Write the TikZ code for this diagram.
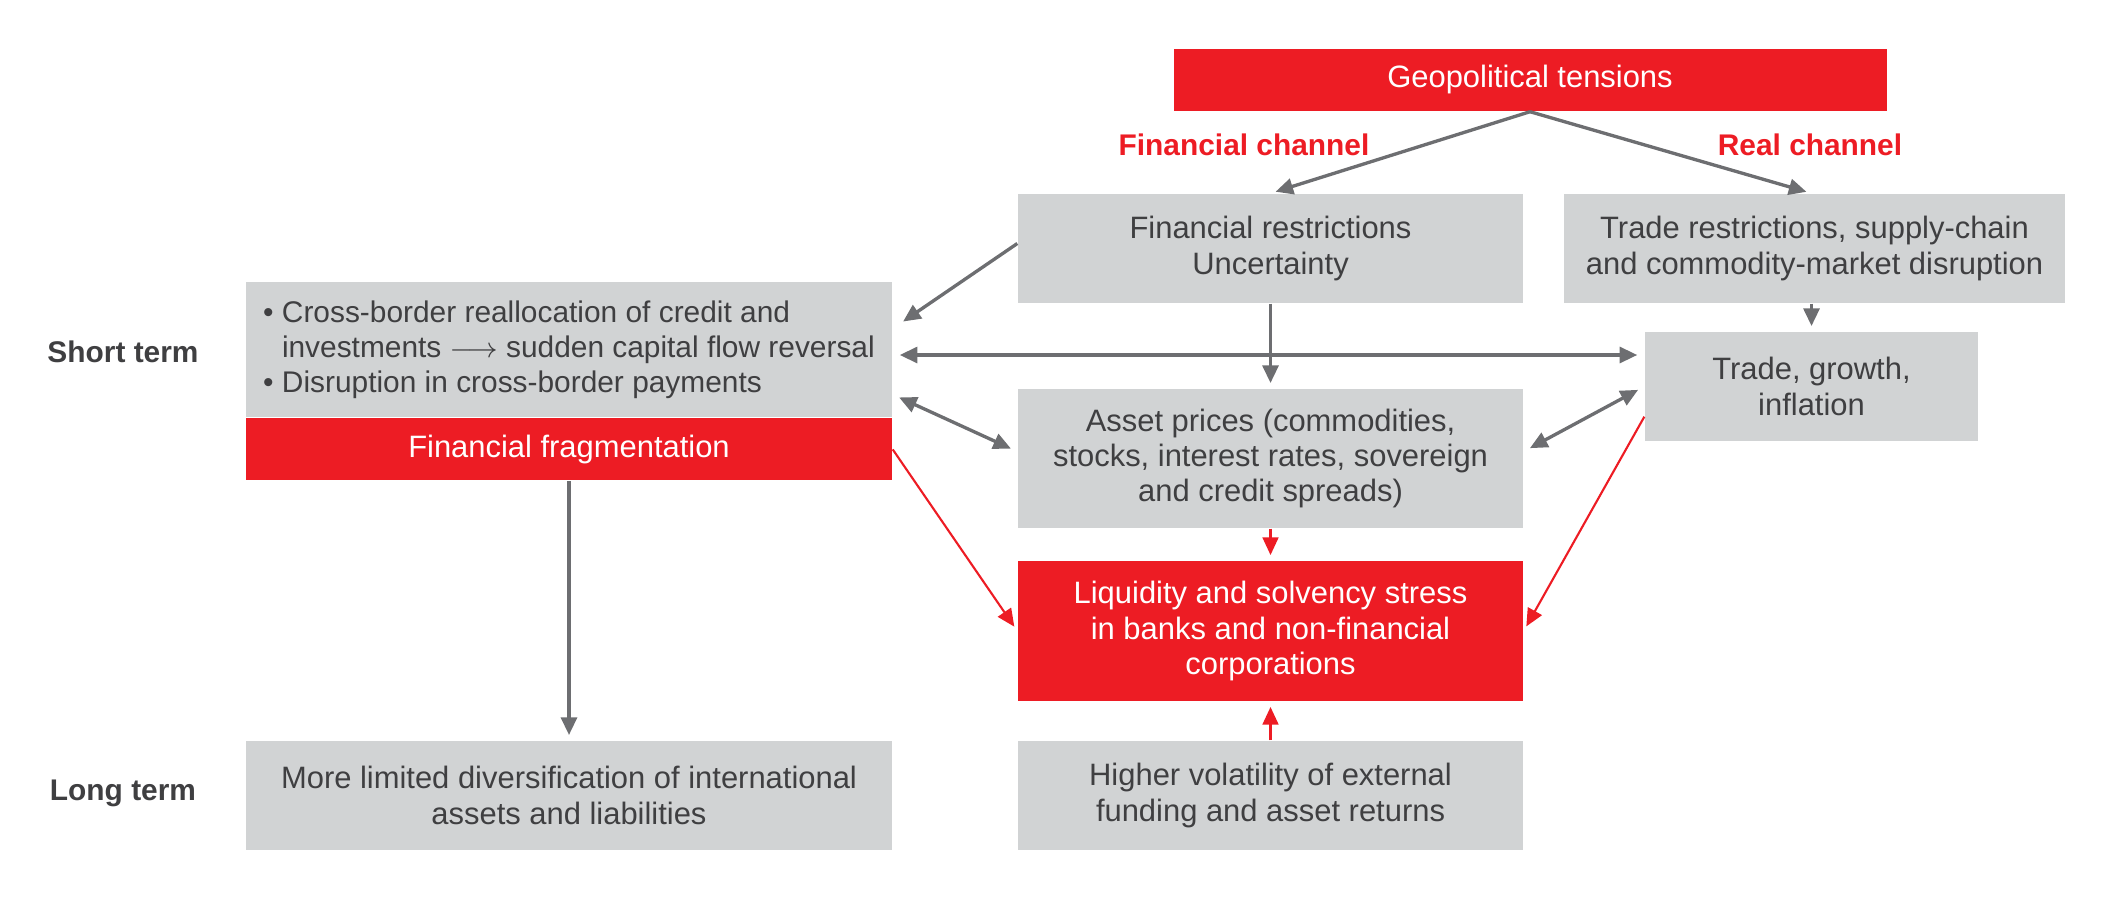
\documentclass[tikz,border=0pt]{standalone}
\usepackage{fontspec}
\setmainfont{Liberation Sans}
\usetikzlibrary{calc,positioning,arrows.meta}
\definecolor{ecbred}{HTML}{ED1C24}
\definecolor{boxgray}{HTML}{D1D3D4}
\definecolor{arrowgray}{HTML}{6D6E71}
\definecolor{textgray}{HTML}{3F3F41}

\begin{document}
\begin{tikzpicture}[
  font=\fontsize{8.8}{10}\selectfont,
  color=textgray,
  graybox/.style={rectangle,fill=boxgray,text=textgray,align=center,inner sep=0pt},
  redbox/.style={rectangle,fill=ecbred,text=white,align=center,inner sep=0pt},
  labeltext/.style={font=\fontsize{8.5}{10}\selectfont\bfseries},
  grayarrow/.style={draw=arrowgray,line width=.95pt,shorten >=1.5pt,-{Triangle[length=5pt,width=4.5pt]}},
  graydouble/.style={draw=arrowgray,line width=.95pt,shorten >=2pt,shorten <=2pt,{Triangle[length=5pt,width=4.5pt]}-{Triangle[length=5pt,width=4.5pt]}},
  redarrow/.style={draw=ecbred,line width=.6pt,shorten >=1.5pt,-{Triangle[length=5pt,width=4.5pt]}},
  ]

  \useasboundingbox (0,0) rectangle (21.23,-9.18);

  %top
  \node (box_geo) [redbox,minimum width=7.13cm,minimum height=.62cm] at (15.30,-.80) {Geopolitical tensions};

  %channels
  \node (box_finres) [graybox,minimum width=5.05cm,minimum height=1.09cm] at (12.705,-2.485) {Financial restrictions\\Uncertainty};
  \node (box_tradres) [graybox,minimum width=5.01cm,minimum height=1.09cm] at (18.145,-2.485) {Trade restrictions, supply-chain\\and commodity-market disruption};
  \node (label_fin) [labeltext,text=ecbred] at (12.44,-1.45) {Financial channel};
  \node (label_real) [labeltext,text=ecbred] at (18.10,-1.45) {Real channel};

  %short term
  \node (box_cross) [graybox,align=left,minimum width=6.46cm,minimum height=1.35cm,font=\fontsize{8.5}{10}\selectfont] at (5.69,-3.495)
    {\textbullet\ Cross-border reallocation of credit and\\
     \hphantom{\textbullet\ }investments $\longrightarrow$ sudden capital flow reversal\\
     \textbullet\ Disruption in cross-border payments};
  \node (box_frag) [redbox,minimum width=6.46cm,minimum height=.62cm,anchor=north] at (box_cross.south) {Financial fragmentation};
  \node (box_tgi) [graybox,minimum width=3.33cm,minimum height=1.09cm] at (18.115,-3.865) {Trade, growth,\\inflation};
  \node (box_asset) [graybox,minimum width=5.05cm,minimum height=1.39cm] at (12.705,-4.585) {Asset prices (commodities,\\stocks, interest rates, sovereign\\and credit spreads)};
  \node (box_liq) [redbox,minimum width=5.05cm,minimum height=1.40cm] at (12.705,-6.31) {Liquidity and solvency stress\\in banks and non-financial\\corporations};

  %long term
  \node (box_limited) [graybox,minimum width=6.46cm,minimum height=1.09cm] at (5.69,-7.955) {More limited diversification of international\\assets and liabilities};
  \node (box_volat) [graybox,minimum width=5.05cm,minimum height=1.09cm] at (12.705,-7.955) {Higher volatility of external\\funding and asset returns};

  %row labels
  \node (label_short) [labeltext] at (1.23,-3.52) {Short term};
  \node (label_long) [labeltext] at (1.23,-7.93) {Long term};

  %gray connectors
  \draw[grayarrow] (box_geo.south) -- (box_finres.north);
  \draw[grayarrow] (box_geo.south) -- (box_tgi.north |- box_tradres.north);
  \draw[grayarrow] ([yshift=.5mm]box_finres.west) -- ([xshift=.6mm,yshift=2.5mm]box_cross.east);
  \draw[grayarrow] (box_finres.south) -- (box_asset.north);
  \draw[grayarrow] (box_tgi.north |- box_tradres.south) -- (box_tgi.north);
  \draw[graydouble] ([yshift=-.55mm]box_cross.east) -- ([yshift=-.55mm]box_cross.east -| box_tgi.west);
  \draw[graydouble] ([yshift=-4.5mm]box_cross.east) -- ([yshift=.7mm]box_asset.west);
  \draw[graydouble] ([yshift=.7mm]box_asset.east) -- (box_tgi.west);
  \draw[grayarrow] (box_frag.south) -- (box_limited.north);

  %red connectors
  \draw[redarrow] (box_frag.east) -- (box_liq.west);
  \draw[redarrow] ([yshift=2.5mm]box_tgi.south west) -- (box_liq.east);
  \draw[redarrow] (box_asset.south) -- (box_liq.north);
  \draw[redarrow] (box_volat.north) -- (box_liq.south);

\end{tikzpicture}
\end{document}
